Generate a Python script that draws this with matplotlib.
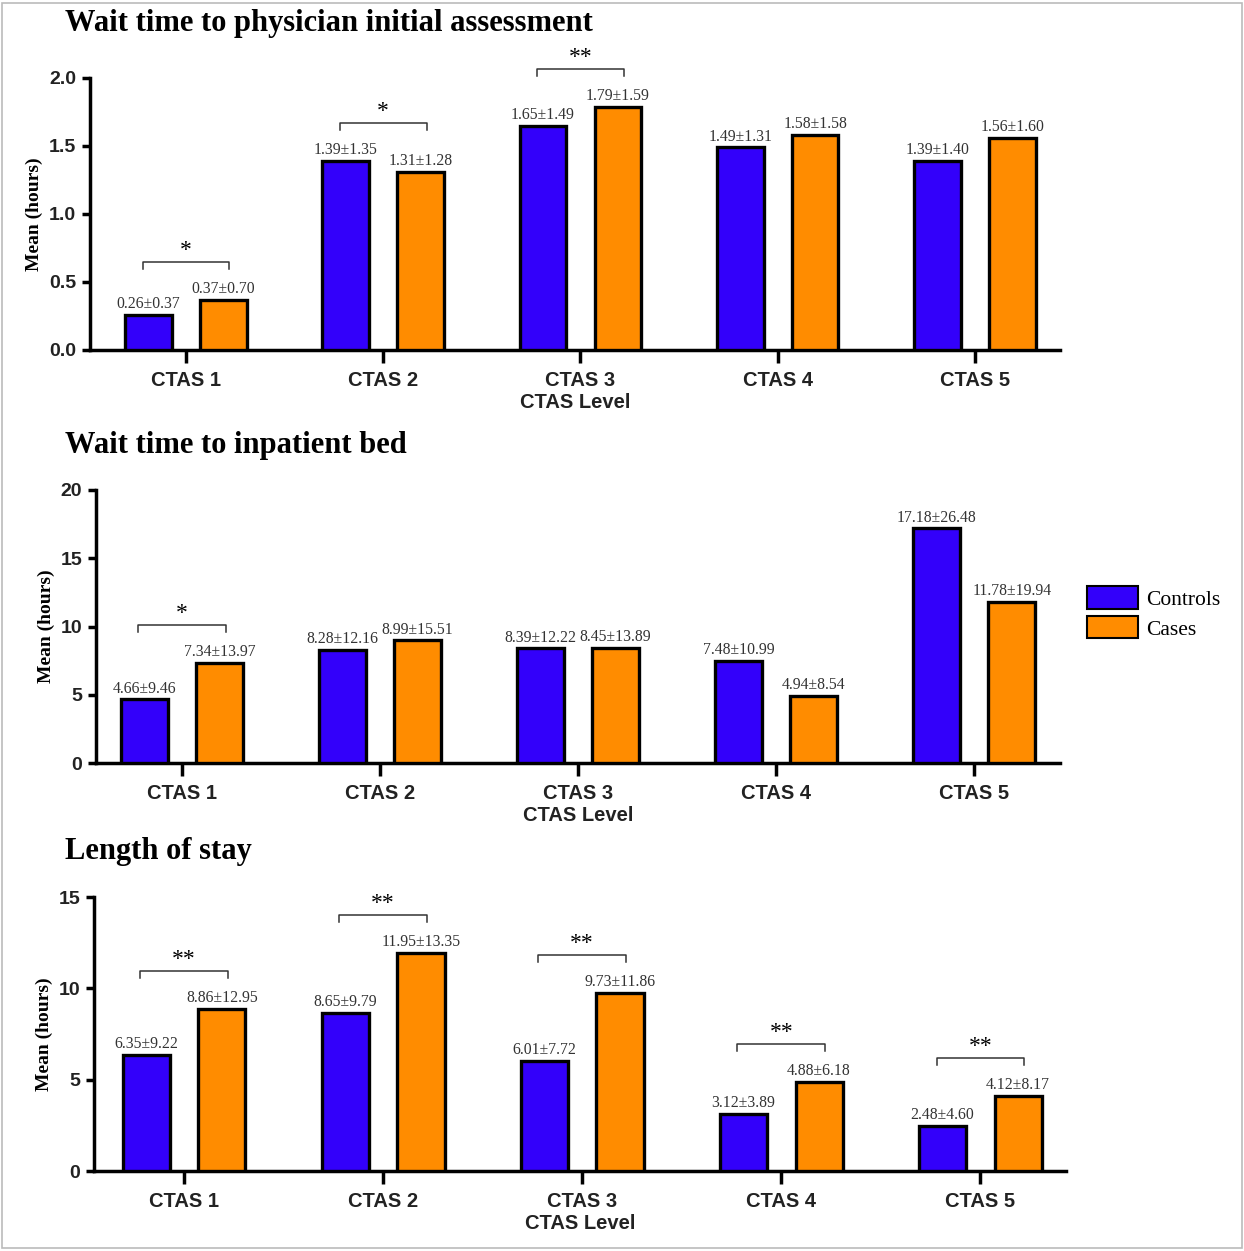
import matplotlib
matplotlib.use('Agg')
import matplotlib.pyplot as plt
from matplotlib.patches import Patch, Rectangle
import numpy as np

# ==================== DATA ====================
levels = ['CTAS 1', 'CTAS 2', 'CTAS 3', 'CTAS 4', 'CTAS 5']

pia_controls = [0.26, 1.39, 1.65, 1.49, 1.39]
pia_controls_sd = [0.37, 1.35, 1.49, 1.31, 1.40]
pia_cases = [0.37, 1.31, 1.79, 1.58, 1.56]
pia_cases_sd = [0.70, 1.28, 1.59, 1.58, 1.60]
pia_sig = ['*', '*', '**', '', '']

bed_controls = [4.66, 8.28, 8.39, 7.48, 17.18]
bed_controls_sd = [9.46, 12.16, 12.22, 10.99, 26.48]
bed_cases = [7.34, 8.99, 8.45, 4.94, 11.78]
bed_cases_sd = [13.97, 15.51, 13.89, 8.54, 19.94]
bed_sig = ['*', '', '', '', '']

los_controls = [6.35, 8.65, 6.01, 3.12, 2.48]
los_controls_sd = [9.22, 9.79, 7.72, 3.89, 4.60]
los_cases = [8.86, 11.95, 9.73, 4.88, 4.12]
los_cases_sd = [12.95, 13.35, 11.86, 6.18, 8.17]
los_sig = ['**', '**', '**', '**', '**']

BLUE = '#3300fa'
ORANGE = '#ff8c00'
W, H = 1244, 1251

plt.rcParams['font.family'] = 'Liberation Sans'
serif = 'Liberation Serif'

fig = plt.figure(figsize=(W / 100, H / 100), dpi=100)


def px_box(left, right, top, bottom):
    return [left / W, 1 - bottom / H, (right - left) / W, (bottom - top) / H]


def draw_panel(box, xlim, title, title_y, ctrl, ctrl_sd, case, case_sd, sig, ymax, yticks, yfmt):
    ax = fig.add_axes(box)
    x = np.arange(len(levels))
    bw = 0.237
    off = 0.19
    ax.bar(x - off, ctrl, bw, color=BLUE, edgecolor='black', linewidth=2.4, zorder=3)
    ax.bar(x + off, case, bw, color=ORANGE, edgecolor='black', linewidth=2.4, zorder=3)

    for i in range(len(levels)):
        ax.annotate(f'{ctrl[i]:.2f}±{ctrl_sd[i]:.2f}', (x[i] - off, ctrl[i]), xytext=(0, 2),
                    textcoords='offset points', ha='center', va='bottom',
                    family=serif, fontsize=11.3, color='#333333')
        ax.annotate(f'{case[i]:.2f}±{case_sd[i]:.2f}', (x[i] + off, case[i]), xytext=(0, 2),
                    textcoords='offset points', ha='center', va='bottom',
                    family=serif, fontsize=11.3, color='#333333')
        if sig[i]:
            # bracket about 38 px above the taller bar
            y = max(ctrl[i], case[i]) + 0.139 * ymax
            leg = 0.026 * ymax
            x0, x1 = x[i] - 0.22, x[i] + 0.22
            ax.plot([x0, x0, x1, x1], [y - leg, y, y, y - leg], color='#333333',
                    linewidth=1.1, clip_on=False, zorder=4)
            ax.text(x[i], y + 0.003 * ymax, sig[i], ha='center', va='bottom',
                    family=serif, fontsize=17, color='black')

    ax.set_xlim(*xlim)
    ax.set_ylim(0, ymax)
    ax.set_xticks(x)
    ax.set_xticklabels(levels, fontsize=14.5, fontweight='bold', color='#222222')
    ax.set_yticks(yticks)
    ax.set_yticklabels([yfmt.format(v) for v in yticks], fontsize=14, fontweight='bold',
                       color='#222222')
    ax.set_xlabel('CTAS Level', fontsize=14.5, fontweight='bold', color='#222222', labelpad=2)
    ax.set_ylabel('Mean (hours)', family=serif, fontsize=14, fontweight='bold', labelpad=4)
    ax.spines['top'].set_visible(False)
    ax.spines['right'].set_visible(False)
    ax.spines['left'].set_linewidth(2.5)
    ax.spines['bottom'].set_linewidth(2.5)
    ax.tick_params(axis='y', width=2.5, length=6, pad=4)
    ax.tick_params(axis='x', width=2.5, length=9, pad=6)
    fig.text(65 / W, 1 - title_y / H, title, family=serif, fontsize=22, fontweight='bold',
             ha='left', va='center')
    return ax


draw_panel(px_box(90, 1060, 78, 350), (-0.487, 4.432), 'Wait time to physician initial assessment', 24,
           pia_controls, pia_controls_sd, pia_cases, pia_cases_sd, pia_sig, 2.0,
           [0, 0.5, 1.0, 1.5, 2.0], '{:.1f}')
ax2 = draw_panel(px_box(96, 1060, 490, 763), (-0.434, 4.434), 'Wait time to inpatient bed', 446,
                 bed_controls, bed_controls_sd, bed_cases, bed_cases_sd, bed_sig, 20,
                 [0, 5, 10, 15, 20], '{:d}')
draw_panel(px_box(94, 1066, 897, 1171), (-0.452, 4.43), 'Length of stay', 852,
           los_controls, los_controls_sd, los_cases, los_cases_sd, los_sig, 15,
           [0, 5, 10, 15], '{:d}')

handles = [Patch(facecolor=BLUE, edgecolor='black', linewidth=1.5, label='Controls'),
           Patch(facecolor=ORANGE, edgecolor='black', linewidth=1.5, label='Cases')]
fig.legend(handles=handles, loc='center left', bbox_to_anchor=(1078 / W, 1 - 613 / H),
           frameon=False, prop={'family': serif, 'size': 15.5}, handlelength=2.4,
           handleheight=1.2, labelspacing=0.3, handletextpad=0.35, borderaxespad=0)

# thin grey frame round the picture
fig.patches.append(Rectangle((0.002, 0.002), 0.996, 0.996, transform=fig.transFigure,
                             fill=False, edgecolor='#bbbbbb', linewidth=1.2))

fig.savefig('out.png', dpi=100, facecolor='white')
